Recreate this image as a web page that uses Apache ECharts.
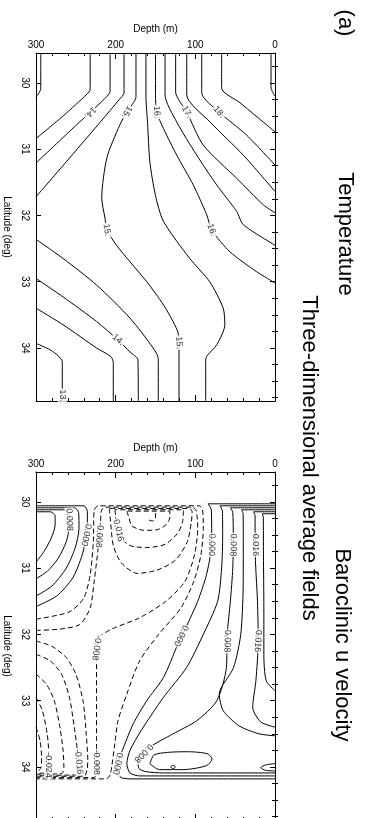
<!DOCTYPE html>
<html>
<head>
<meta charset="utf-8">
<title>Three-dimensional average fields</title>
<script src="https://cdn.jsdelivr.net/npm/echarts@6/dist/echarts.min.js"></script>
<style>
  html, body { margin: 0; padding: 0; background: #fff; }
  #main { width: 368px; height: 818px; }
</style>
</head>
<body>
<div id="main"></div>
<script>
// axis ranges and ticks
const depthMin = 0;
const depthMax = 300;
const latMin = 29.55;
const latMax = 34.8;
const latTicks = [30, 31, 32, 33, 34];
const latMinorTicks = [29.75, 30.25, 30.5, 30.75, 31.25, 31.5, 31.75, 32.25, 32.5, 32.75,
  33.25, 33.5, 33.75, 34.25, 34.5, 34.75];

// ---- Temperature contours, points are [depth (m), latitude (deg)] ----
const t13a = [[294, 29.55], [294, 30.08], [296, 30.15], [300, 30.21]];
const t13b = [[300, 33.93], [282, 34.03], [272, 34.12], [267, 34.21], [267, 34.8]];
const t135a = [[232, 29.55], [232, 30.1], [236, 30.17], [265, 30.49], [300, 30.84]];
const t135b = [[300, 33.4], [266, 33.65], [224, 34.0], [206, 34.13], [203, 34.22], [203, 34.8]];
const t14a = [[207, 29.55], [207, 30.13], [213, 30.23], [255, 30.7], [300, 31.21]];
const t14b = [[300, 32.95], [266, 33.23], [224, 33.6], [197, 33.88], [182, 34.06], [172, 34.18], [171.6, 34.8]];
const t145a = [[189.5, 29.55], [189.5, 30.15], [196, 30.26], [244, 30.94], [300, 31.72]];
const t145b = [[300, 32.36], [266, 32.65], [224, 33.05], [182, 33.55], [153, 34.0], [146.5, 34.16], [146.5, 34.8]];
const t15 = [[174.5, 29.55], [174.5, 30.21], [186, 30.44], [195, 30.64], [211, 31.13], [217.5, 31.74],
  [213.4, 32.04], [211, 32.22], [199, 32.45], [182, 32.7], [161, 33.0], [140, 33.35], [128, 33.6],
  [121.5, 33.78], [120.5, 34.06], [120.5, 34.8]];
const t155 = [[162, 29.55], [162, 30.2], [160, 30.6], [157, 31.2], [150, 31.7], [140, 32.09], [107, 32.65],
  [82, 33.0], [65, 33.4], [63, 33.65], [73, 33.95], [86, 34.13], [87, 34.21], [87, 34.8]];
const t16 = [[150, 29.55], [150, 30.18], [148.5, 30.44], [140, 30.69], [123.4, 31.09], [102.6, 31.54],
  [85.7, 31.99], [79.5, 32.22], [56.5, 32.55], [23, 32.85], [0, 33.02]];
const t165 = [[138, 29.55], [138, 30.18], [123.4, 30.59], [98.3, 31.09], [73.2, 31.54], [48.1, 31.94],
  [39.8, 32.14], [0, 32.45]];
const t17 = [[124.7, 29.55], [124.7, 30.14], [110.8, 30.44], [90, 30.94], [48.1, 31.44], [14.7, 31.84], [0, 31.96]];
const t175 = [[110.8, 29.55], [110.8, 30.18], [81.6, 30.59], [39.8, 31.09], [0, 31.64]];
const t18 = [[92, 29.55], [92, 30.15], [70.3, 30.44], [35.5, 30.79], [0, 31.24]];
const t185 = [[67, 29.55], [67, 30.08], [44, 30.3], [0, 30.74]];
const t19 = [[5, 29.55], [5, 30.08], [2.5, 30.15], [0, 30.2]];

const tempContours = [t13a, t13b, t135a, t135b, t14a, t14b, t145a, t145b, t15, t155,
  t16, t165, t17, t175, t18, t185, t19];

// contour labels [depth, latitude, text]
const tempLabels = [
  [232, 30.45, '14.'], [186, 30.44, '15.'], [148.5, 30.44, '16.'], [110.8, 30.44, '17.'],
  [70.3, 30.44, '18.'], [211, 32.22, '15.'], [79.5, 32.22, '16.'], [197, 33.88, '14.'],
  [120.5, 33.92, '15.'], [267, 34.72, '13.']
];

// ---- Baroclinic u velocity contours (m/s) ----
// positive and zero levels (solid)
const u000L = [[300, 30.06], [240, 30.06], [235.5, 30.15], [236, 30.45], [242, 30.8], [254, 31.15], [274, 31.42], [300, 31.58]];
const u004L = [[300, 30.09], [252, 30.09], [246.5, 30.16], [246, 30.4], [251, 30.7], [262, 31.0], [280, 31.27], [300, 31.42]];
const u008L = [[300, 30.12], [265, 30.12], [258.5, 30.18], [258, 30.35], [262, 30.6], [272, 30.85], [286, 31.05], [300, 31.16]];
const u012L = [[300, 30.15], [282, 30.15], [276, 30.21], [276, 30.35], [281, 30.55], [290, 30.75], [300, 30.91]];
const u000R = [[0, 30.03], [84, 30.03], [80, 30.12], [79.5, 30.4], [80, 30.7], [86, 31.1], [97, 31.5], [112, 31.9],
  [122, 32.15], [140, 32.65], [161, 33.0], [178, 33.35], [190, 33.7], [197, 33.93], [199, 34.06], [193, 34.16],
  [180, 34.18], [0, 34.18]];
const u004R = [[0, 30.06], [69, 30.06], [66, 30.14], [65.7, 30.5], [67, 31.0], [72, 31.5], [90, 32.0], [111, 32.5],
  [140, 32.95], [168, 33.45], [182, 33.75], [186, 33.95], [182, 34.09], [170, 34.135], [0, 34.135]];
const u008R = [[0, 30.09], [56, 30.09], [53, 30.16], [52.4, 30.5], [53, 31.0], [56, 31.5], [60, 32.0], [61, 32.5],
  [73, 33.0], [98, 33.3], [128, 33.5], [157, 33.7], [172, 33.88], [171, 34.02], [162, 34.07], [140, 34.09], [0, 34.09]];
const u012R = [[0, 30.12], [42, 30.12], [40, 30.18], [39.8, 30.6], [40, 31.3], [43, 32.0], [52, 32.5], [70, 32.9],
  [65, 33.15], [45, 33.38], [20, 33.5], [0, 33.53]];
const u016R = [[0, 30.15], [27, 30.15], [25, 30.21], [25, 30.7], [22, 31.5], [21, 32.1], [24, 32.7], [28, 33.1],
  [18, 33.32], [0, 33.4]];
const u020R = [[0, 30.18], [16, 30.18], [14.7, 30.23], [14.5, 30.8], [14, 31.6], [14, 32.3], [11, 32.7], [0, 32.85]];
const u012B = [[157, 33.95], [152, 33.82], [135, 33.78], [110, 33.77], [85, 33.8], [79, 33.88], [86, 33.98],
  [115, 34.04], [145, 34.04], [157, 33.95]];
const u016B = [[131, 34.0], [128, 33.975], [125, 34.0], [128, 34.025], [131, 34.0]];
const u012S = [[0, 33.95], [12, 33.97], [18, 34.01], [12, 34.05], [0, 34.06]];

// negative levels (dashed)
const um004 = [[300, 31.77], [258, 31.66], [240, 31.45], [232, 31.1], [228, 30.6], [227, 30.13], [222, 30.06],
  [95, 30.06], [91, 30.12], [90, 30.4], [93, 30.8], [102, 31.2], [118, 31.6], [146, 32.0], [170, 32.4],
  [186, 32.9], [197, 33.3], [201, 33.65], [205, 34.0], [207, 34.12], [212, 34.18], [300, 34.18]];
const um008 = [[300, 31.94], [270, 31.92], [245, 31.85], [232, 31.6], [227, 31.2], [222, 30.7], [219, 30.3],
  [218, 30.14], [214, 30.08], [104, 30.08], [99, 30.13], [97, 30.4], [101, 30.8], [113, 31.2], [137, 31.5],
  [170, 31.75], [205, 31.92], [221, 32.05], [224, 32.3], [224, 33.0], [224, 33.6], [224, 34.05], [227, 34.16],
  [300, 34.16]];
const um012 = [[208, 30.1], [206, 30.35], [203, 30.66], [193, 30.92], [173, 31.08], [148, 31.03], [125, 30.88],
  [110, 30.6], [105, 30.3], [104, 30.15], [108, 30.1], [208, 30.1]];
const um016 = [[201, 30.12], [199, 30.3], [195, 30.52], [182, 30.66], [161, 30.69], [138, 30.64], [122, 30.47],
  [116, 30.3], [115, 30.12], [201, 30.12]];
const um020 = [[186, 30.14], [183, 30.25], [180, 30.36], [165, 30.43], [148, 30.42], [137, 30.35], [132, 30.23],
  [132, 30.14], [186, 30.14]];
const um024 = [[150, 30.17], [150, 30.25], [154, 30.29], [159, 30.27]];
const um012b = [[300, 32.1], [280, 32.18], [262, 32.35], [250, 32.6], [241, 33.0], [237, 33.5], [235, 33.9],
  [236, 34.05], [240, 34.14], [300, 34.14]];
const um016b = [[300, 32.3], [282, 32.4], [268, 32.6], [258, 32.95], [252, 33.4], [248, 33.75], [246, 34.0],
  [249, 34.12], [300, 34.125]];
const um020b = [[300, 32.6], [287, 32.75], [277, 33.0], [270, 33.4], [266, 33.75], [265, 34.0], [268, 34.1], [300, 34.11]];
const um024b = [[300, 32.95], [292, 33.15], [286, 33.5], [284, 33.8], [284, 34.0], [287, 34.09], [300, 34.095]];
const um028b = [[300, 33.4], [295, 33.6], [293, 33.85], [294, 34.02], [300, 34.08]];

const velPositive = [u000L, u004L, u008L, u012L, u000R, u004R, u008R, u012R, u016R, u020R, u012B, u016B, u012S];
const velNegative = [um004, um008, um012, um016, um020, um024, um012b, um016b, um020b, um024b, um028b];

const velLabels = [
  [258.2, 30.27, '0.008'], [237, 30.5, '0.000'], [220.5, 30.5, '-0.008'], [197, 30.41, '-0.016'],
  [79.5, 30.65, '0.000'], [52.5, 30.65, '0.008'], [25, 30.65, '0.016'],
  [60, 32.1, '0.008'], [21.5, 32.1, '0.016'], [118, 32.02, '0.000'], [224, 32.2, '-0.008'],
  [284.5, 33.97, '-0.024'], [246.5, 33.92, '-0.016'], [224, 33.93, '-0.008'], [197.5, 33.95, '0.000'],
  [165, 33.79, '0.008']
];

// ---- chart ----
const FONT = '"Liberation Sans", Arial, Helvetica, sans-serif';
const chart = echarts.init(document.getElementById('main'), null, { renderer: 'canvas' });

const grids = [
  { left: 36, top: 53, width: 239, height: 348, outerBoundsMode: 'none' },
  { left: 36, top: 472, width: 239, height: 348, outerBoundsMode: 'none' }
];

function depthAxes(g) {
  const base = {
    gridIndex: g, type: 'value', min: depthMin, max: depthMax, interval: 100, inverse: true,
    axisLine: { show: true, onZero: false, lineStyle: { color: '#000', width: 1 } },
    axisTick: { show: true, inside: true, length: 6, lineStyle: { color: '#000', width: 1 } },
    minorTick: { show: true, splitNumber: 5, length: 3, lineStyle: { color: '#000', width: 1 } },
    splitLine: { show: false },
    minorSplitLine: { show: false }
  };
  return [
    Object.assign({}, base, {
      position: 'top',
      name: 'Depth (m)', nameLocation: 'middle', nameGap: 19,
      nameTextStyle: { color: '#000', fontSize: 10, fontFamily: FONT },
      axisLabel: { show: true, margin: 3, color: '#000', fontSize: 10, fontFamily: FONT }
    }),
    Object.assign({}, base, { position: 'bottom', axisLabel: { show: false } })
  ];
}

function latAxes(g) {
  const base = {
    gridIndex: g, type: 'value', min: latMin, max: latMax, inverse: true,
    splitLine: { show: false },
    axisLine: { show: true, onZero: false, lineStyle: { color: '#000', width: 1 } }
  };
  return [
    Object.assign({}, base, {
      position: 'left',
      name: 'Latitude (deg)', nameLocation: 'middle', nameGap: 22, nameRotate: -90,
      nameTextStyle: { color: '#000', fontSize: 10, fontFamily: FONT },
      axisLabel: { show: true, customValues: latTicks, rotate: -90, margin: 6, color: '#000', fontSize: 10, fontFamily: FONT },
      axisTick: { show: true, customValues: latTicks, inside: true, length: 5, lineStyle: { color: '#000' } }
    }),
    Object.assign({}, base, {
      position: 'left', axisLine: { show: false }, axisLabel: { show: false },
      axisTick: { show: true, customValues: latMinorTicks, inside: true, length: 3, lineStyle: { color: '#000' } }
    }),
    Object.assign({}, base, {
      position: 'right', axisLabel: { show: false },
      axisTick: { show: true, customValues: latTicks, inside: true, length: 5, lineStyle: { color: '#000' } }
    }),
    Object.assign({}, base, {
      position: 'right', axisLine: { show: false }, axisLabel: { show: false },
      axisTick: { show: true, customValues: latMinorTicks, inside: true, length: 3, lineStyle: { color: '#000' } }
    })
  ];
}

function contourSeries(list, g, dashed) {
  return list.map(function (pts) {
    return {
      type: 'line', xAxisIndex: 2 * g, yAxisIndex: 4 * g,
      data: pts, showSymbol: false, symbol: 'none', smooth: 0.25, silent: true, z: 2,
      lineStyle: { color: '#000', width: 1, type: dashed ? [5, 3] : 'solid' }
    };
  });
}

function labelSeries(labels, g, rotations) {
  return {
    type: 'scatter', xAxisIndex: 2 * g, yAxisIndex: 4 * g, silent: true, z: 5,
    symbolSize: 1, itemStyle: { color: 'rgba(255,255,255,0)' },
    data: labels.map(function (l, i) {
      return { value: [l[0], l[1]], name: l[2], label: { rotate: rotations ? rotations[i] : 0 } };
    }),
    label: {
      show: true, position: 'inside', formatter: '{b}', color: '#000', fontSize: 9, fontFamily: FONT,
      backgroundColor: '#fff', padding: [0, 1]
    }
  };
}

const titleStyle = { fill: '#000', fontSize: 22, fontFamily: FONT, textAlign: 'center', textVerticalAlign: 'middle' };
function vText(x, y, text) {
  return { type: 'text', x: x, y: y, rotation: -Math.PI / 2, style: Object.assign({ text: text }, titleStyle) };
}

function buildOption(tempRot, velRot) {
  return {
    backgroundColor: '#fff',
    animation: false,
    grid: grids,
    xAxis: depthAxes(0).concat(depthAxes(1)),
    yAxis: latAxes(0).concat(latAxes(1)),
    graphic: [
      vText(345, 23, '(a)'),
      vText(345, 234, 'Temperature'),
      vText(309, 458, 'Three-dimensional average fields'),
      vText(342, 645, 'Baroclinic u velocity')
    ],
    series: []
      .concat(contourSeries(tempContours, 0, false))
      .concat(contourSeries(velPositive, 1, false))
      .concat(contourSeries(velNegative, 1, true))
      .concat([labelSeries(tempLabels, 0, tempRot), labelSeries(velLabels, 1, velRot)])
  };
}

chart.setOption(buildOption(null, null));

// orient each contour label along the nearest contour segment
function labelAngles(labels, contours, g) {
  const finder = { xAxisIndex: 2 * g, yAxisIndex: 4 * g };
  const pix = contours.map(function (c) {
    return c.map(function (p) { return chart.convertToPixel(finder, p); });
  });
  return labels.map(function (l) {
    const q = chart.convertToPixel(finder, [l[0], l[1]]);
    let best = Infinity, ang = -90;
    pix.forEach(function (c) {
      for (let i = 0; i < c.length - 1; i++) {
        const a = c[i], b = c[i + 1];
        const dx = b[0] - a[0], dy = b[1] - a[1];
        const len2 = dx * dx + dy * dy || 1;
        let t = ((q[0] - a[0]) * dx + (q[1] - a[1]) * dy) / len2;
        t = Math.max(0, Math.min(1, t));
        const px = a[0] + t * dx - q[0], py = a[1] + t * dy - q[1];
        const d2 = px * px + py * py;
        if (d2 < best) {
          best = d2;
          let deg = Math.atan2(-dy, dx) * 180 / Math.PI;
          if (deg > 0) deg -= 180;
          if (deg <= -180) deg += 180;
          ang = deg;
        }
      }
    });
    return ang;
  });
}

const tempRot = labelAngles(tempLabels, tempContours, 0);
const velRot = labelAngles(velLabels, velPositive.concat(velNegative), 1);
chart.setOption(buildOption(tempRot, velRot), true);
</script>
</body>
</html>
